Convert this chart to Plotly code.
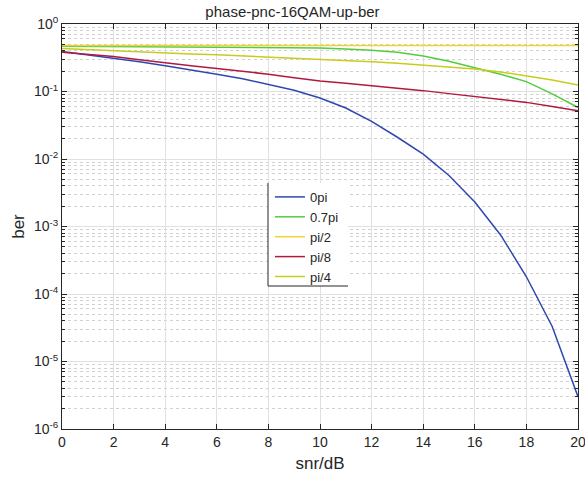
import plotly.graph_objects as go

snr = list(range(0, 21))
ber_0pi = [0.39, 0.35, 0.31, 0.275, 0.24, 0.21, 0.18, 0.155, 0.128, 0.104, 0.08,
           0.057, 0.036, 0.021, 0.0118, 0.0057, 0.0023, 0.00075, 0.00018, 3.3e-5, 3.0e-6]
ber_07pi = [0.47, 0.468, 0.465, 0.463, 0.46, 0.458, 0.455, 0.453, 0.45, 0.446, 0.44,
            0.427, 0.41, 0.38, 0.335, 0.28, 0.225, 0.18, 0.14, 0.092, 0.058]
ber_pi2 = [0.482] * 21
ber_pi8 = [0.38, 0.355, 0.33, 0.295, 0.265, 0.24, 0.22, 0.2, 0.18, 0.16, 0.143,
           0.132, 0.122, 0.112, 0.103, 0.093, 0.084, 0.076, 0.069, 0.06, 0.052]
ber_pi4 = [0.435, 0.417, 0.4, 0.385, 0.37, 0.36, 0.35, 0.337, 0.325, 0.314, 0.303,
           0.29, 0.277, 0.262, 0.247, 0.232, 0.215, 0.195, 0.17, 0.148, 0.125]

series = [
    ("0pi", ber_0pi, "#2E47B0"),
    ("0.7pi", ber_07pi, "#55CC40"),
    ("pi/2", ber_pi2, "#F2D22E"),
    ("pi/8", ber_pi8, "#B01A3E"),
    ("pi/4", ber_pi4, "#C8CC1E"),
]

x_ticks = list(range(0, 21, 2))
y_tickvals = [10.0 ** e for e in range(-6, 1)]
y_ticktext = ["10<sup>%d</sup>" % e for e in range(-6, 1)]
y_minor = [m * 10.0 ** e for e in range(-6, 0) for m in range(2, 10)]

fig = go.Figure()
for name, vals, col in series:
    fig.add_trace(go.Scatter(x=snr, y=vals, mode="lines", name=name,
                             line=dict(color=col, width=1.5)))

font = dict(family="Liberation Sans, Arial, sans-serif", size=14, color="#262626")

fig.update_layout(
    width=585, height=480,
    margin=dict(l=62, r=7, t=24, b=51, autoexpand=False),
    paper_bgcolor="white", plot_bgcolor="white",
    font=font,
    title=dict(text="phase-pnc-16QAM-up-ber", x=0.5, xanchor="center",
               y=1 - 12 / 480, yanchor="middle", font=dict(size=15, color="#262626")),
    showlegend=True,
    legend=dict(x=0.403, y=0.61, xanchor="left", yanchor="top",
                bgcolor="rgba(255,255,255,0)", borderwidth=0,
                font=dict(size=13, color="#262626"),
                tracegroupgap=0, itemwidth=30),
)
fig.update_xaxes(
    range=[0, 20], tickvals=x_ticks, ticks="inside", ticklen=5, tickcolor="#262626",
    showline=True, linecolor="#262626", linewidth=1, mirror="ticks",
    showgrid=True, gridcolor="#E0E0E0", gridwidth=1, zeroline=False,
    ticklabeloverflow="allow", automargin=False,
    title=dict(text="snr/dB", standoff=8),
)
fig.update_yaxes(
    type="log", range=[-6, 0], tickmode="array", tickvals=y_tickvals, ticktext=y_ticktext,
    ticks="inside", ticklen=5, tickcolor="#262626",
    showline=True, linecolor="#262626", linewidth=1, mirror="ticks",
    showgrid=True, gridcolor="#E0E0E0", gridwidth=1, zeroline=False,
    automargin=False,
    minor=dict(tickmode="array", tickvals=y_minor, ticks="inside", ticklen=3,
               tickcolor="#262626", showgrid=True, gridcolor="#D0D0D0",
               griddash="dot", gridwidth=1),
    title=dict(text="ber", standoff=4),
)
# legend box: white fill with left and bottom edges
lx0 = (268 - 62) / 516
lx1 = (348 - 62) / 516
ly0 = (429 - 286) / 405
ly1 = (429 - 183) / 405
fig.add_shape(type="rect", xref="paper", yref="paper", x0=lx0, x1=lx1, y0=ly0, y1=ly1,
              fillcolor="white", line=dict(width=0), layer="above")
fig.add_shape(type="line", xref="paper", yref="paper", x0=lx0, x1=lx0,
              y0=ly0, y1=ly1, line=dict(color="#262626", width=1), layer="above")
fig.add_shape(type="line", xref="paper", yref="paper", x0=lx0, x1=lx1,
              y0=ly0, y1=ly0, line=dict(color="#262626", width=1), layer="above")

fig.write_html("out.html", config={"displayModeBar": False},
               post_script="document.body.style.margin='0';document.body.style.padding='0';"
                           "document.body.style.overflow='hidden';")
